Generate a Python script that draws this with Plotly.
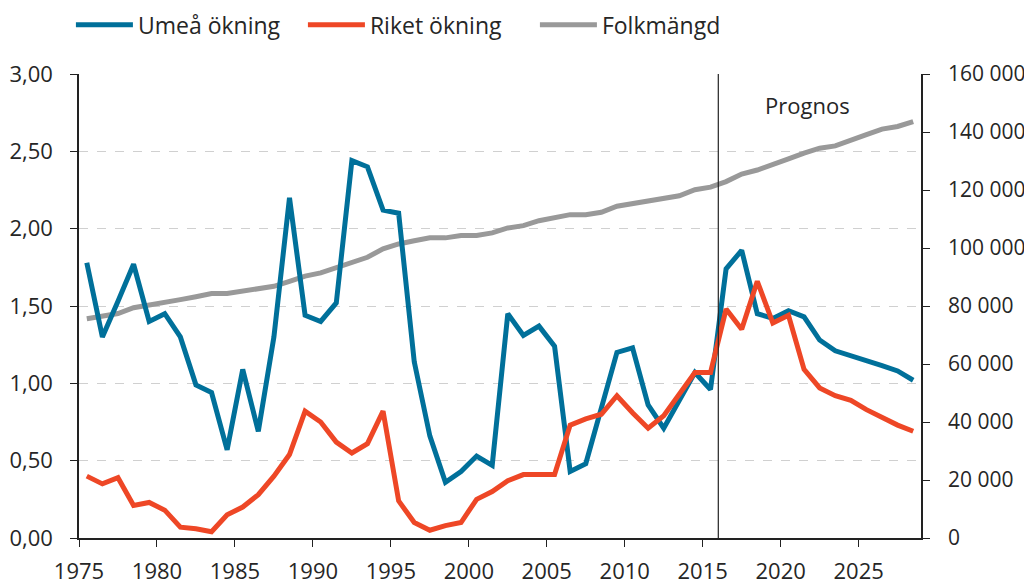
import numpy as np
import plotly.graph_objects as go

years = list(range(1975, 2029))

umea = [1.78, 1.30, 1.53, 1.77, 1.40, 1.45, 1.30, 0.99, 0.94, 0.57,
        1.09, 0.69, 1.30, 2.20, 1.44, 1.40, 1.52, 2.44, 2.40, 2.12,
        2.10, 1.14, 0.66, 0.36, 0.43, 0.53, 0.47, 1.45, 1.31, 1.37,
        1.24, 0.43, 0.48, 0.83, 1.20, 1.23, 0.86, 0.71, 0.89, 1.07,
        0.96, 1.74, 1.86, 1.45, 1.42, 1.47, 1.43, 1.28, 1.21, 1.18,
        1.15, 1.115, 1.08, 1.02]

riket = [0.40, 0.35, 0.39, 0.21, 0.23, 0.18, 0.07, 0.06, 0.04, 0.15,
         0.20, 0.28, 0.40, 0.54, 0.82, 0.75, 0.62, 0.55, 0.61, 0.82,
         0.24, 0.10, 0.05, 0.08, 0.10, 0.25, 0.30, 0.37, 0.41, 0.41,
         0.41, 0.73, 0.77, 0.80, 0.92, 0.81, 0.71, 0.79, 0.93, 1.07,
         1.07, 1.48, 1.35, 1.66, 1.39, 1.44, 1.09, 0.97, 0.92, 0.89,
         0.83, 0.78, 0.73, 0.69]

folk = [75600, 76700, 77400, 79400, 80200, 81100, 82200, 83200, 84300, 84300,
        85100, 85900, 86800, 88500, 90300, 91400, 93100, 94900, 96800, 99700,
        101400, 102500, 103500, 103500, 104300, 104300, 105200, 106900, 107700, 109400,
        110300, 111500, 111500, 112300, 114400, 115300, 116100, 116900, 118000, 120100,
        121000, 122900, 125500, 126900, 129000, 130700, 132700, 134400, 135200, 137300,
        139100, 141000, 141900, 143600]

x_ticks = [1975, 1980, 1985, 1990, 1995, 2000, 2005, 2010, 2015, 2020, 2025]
prognos_year = 2016

xpos = np.array(years) + 0.5

FONT = "Open Sans"
TXT = "#262626"
AX = "#222222"

fig = go.Figure()
fig.add_trace(go.Scatter(x=xpos, y=folk, name="Folkmängd", mode="lines",
                         line=dict(color="#999999", width=5), yaxis="y", legendrank=3))
fig.add_trace(go.Scatter(x=xpos, y=umea, name="Umeå ökning", mode="lines",
                         line=dict(color="#00709a", width=5), yaxis="y2", legendrank=1))
fig.add_trace(go.Scatter(x=xpos, y=riket, name="Riket ökning", mode="lines",
                         line=dict(color="#ee4726", width=5), yaxis="y2", legendrank=2))

fig.add_shape(type="line", xref="x", yref="paper", x0=prognos_year, x1=prognos_year,
              y0=0, y1=1, line=dict(color=AX, width=1.2))
fig.add_annotation(text="Prognos", xref="x", yref="paper", x=2021.7, y=0.933,
                   xanchor="center", yanchor="middle",
                   showarrow=False, font=dict(size=22, color=TXT, family=FONT))

fig.update_layout(
    width=1024, height=576,
    margin=dict(l=71, r=111, t=66, b=46, autoexpand=False),
    paper_bgcolor="white", plot_bgcolor="white",
    separators=", ",
    font=dict(family=FONT, size=22, color=TXT),
    showlegend=True,
    legend=dict(orientation="h", x=-0.0096, y=1.106, xanchor="left", yanchor="middle",
                font=dict(size=23, color=TXT, family=FONT), itemwidth=57,
                entrywidth=160, entrywidthmode="pixels",
                traceorder="normal"),
    xaxis=dict(range=[1975, 2029], tickvals=x_ticks, showgrid=False, zeroline=False,
               showline=True, linecolor=AX, linewidth=1.5, automargin=False,
               ticks="outside", ticklen=7, tickcolor=AX, ticklabelstandoff=6,
               tickfont=dict(size=22, color=TXT)),
    yaxis=dict(range=[0, 160000], dtick=20000, tickformat=",d", side="right",
               showgrid=False, zeroline=False, showline=True, linecolor=AX,
               linewidth=1.5, ticks="outside", ticklen=7, tickcolor=AX, automargin=False,
               ticklabelstandoff=14, tickfont=dict(size=21, color=TXT)),
    yaxis2=dict(range=[0, 3], dtick=0.5, tickformat=".2f", side="left", overlaying="y",
                showgrid=True, gridcolor="#d0d0d0", griddash="dash", gridwidth=1,
                zeroline=False, showline=True, linecolor=AX, linewidth=1.5, automargin=False,
                ticks="outside", ticklen=7, tickcolor=AX, ticklabelstandoff=13,
                tickfont=dict(size=22, color=TXT)),
)

fig.write_html("out.html")
